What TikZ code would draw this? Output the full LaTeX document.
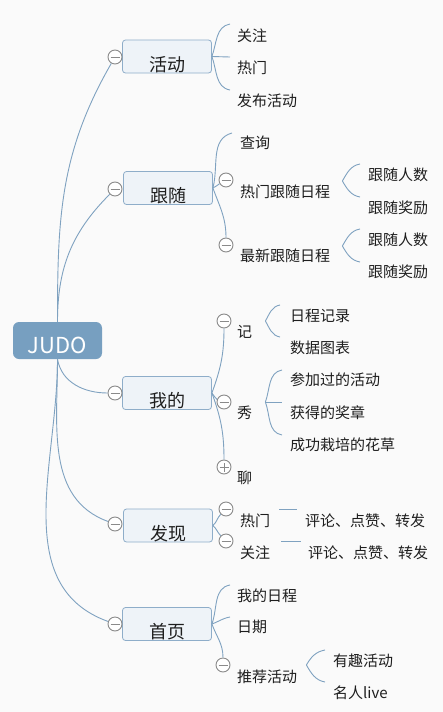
\documentclass[tikz,border=0pt]{standalone}
\usepackage{fontspec}
\setmainfont{Noto Sans CJK SC}
\definecolor{linkc}{HTML}{7FA2C0}
\definecolor{boxfill}{HTML}{EEF3F8}
\definecolor{boxline}{HTML}{8EADC9}
\definecolor{rootc}{HTML}{779FC0}
\definecolor{btnc}{HTML}{8A8A8A}
\definecolor{bgc}{HTML}{FAFAFA}
\definecolor{txtc}{HTML}{1E1E1E}
\tikzset{
  root/.style={fill=rootc, rounded corners=6pt, minimum width=89pt, inner ysep=6pt, text height=25pt, text depth=0pt, text=white, font=\fontsize{22}{24}\selectfont},
  topic/.style={draw=boxline, fill=boxfill, line width=0.8pt, rounded corners=3pt, minimum width=89pt, inner xsep=0pt, inner ysep=2pt, text height=29pt, text depth=0pt, text=txtc, font=\fontsize{18}{20}\selectfont},
  leaf/.style={anchor=west, inner sep=0pt, text=txtc, font=\fontsize{15}{18}\selectfont},
  btn/.style={circle, draw=btnc, fill=white, line width=0.9pt, minimum size=14pt, inner sep=0pt},
  minusbtn/.style={btn, path picture={\draw[btnc, line width=0.9pt] ([xshift=-4.5pt]path picture bounding box.center) -- ([xshift=4.5pt]path picture bounding box.center);}},
  plusbtn/.style={btn, path picture={\draw[btnc, line width=0.9pt] ([xshift=-4.5pt]path picture bounding box.center) -- ([xshift=4.5pt]path picture bounding box.center) ([yshift=-4.5pt]path picture bounding box.center) -- ([yshift=4.5pt]path picture bounding box.center);}},
  link/.style={draw=linkc, line width=0.9pt}
}
\begin{document}
\begin{tikzpicture}[x=1pt, y=1pt]
  \useasboundingbox (0,0) rectangle (443,-712);
  \fill[bgc] (0,0) rectangle (443,-712);
  \node[root] (judo) at (57.5,-340.5) {JUDO};
  \node[topic] (huodong) at (167,-56.5) {活动};
  \node[topic] (genshui) at (168,-188) {跟随};
  \node[topic] (wode) at (167,-393) {我的};
  \node[topic] (faxian) at (168,-525.5) {发现};
  \node[topic] (shouye) at (167,-624) {首页};
  \node[minusbtn] (bhd) at (115,-57) {};
  \node[minusbtn] (bgs) at (115,-189) {};
  \node[minusbtn] (bwd) at (115,-393) {};
  \node[minusbtn] (bfx) at (115,-524) {};
  \node[minusbtn] (bsy) at (115,-624) {};
  \node[leaf] (hd1) at (237,-36) {关注};
  \node[leaf] (hd2) at (237,-68) {热门};
  \node[leaf] (hd3) at (237,-101) {发布活动};
  \node[leaf] (gs1) at (240,-143) {查询};
  \node[leaf] (gs2) at (240,-192) {热门跟随日程};
  \node[leaf] (gs3) at (240,-256) {最新跟随日程};
  \node[leaf] (gs21) at (368,-175) {跟随人数};
  \node[leaf] (gs22) at (368,-208) {跟随奖励};
  \node[leaf] (gs31) at (368,-240) {跟随人数};
  \node[leaf] (gs32) at (368,-272) {跟随奖励};
  \node[minusbtn] (bgs2) at (226,-180) {};
  \node[minusbtn] (bgs3) at (226,-245) {};
  \node[leaf] (wd1) at (237,-332) {记};
  \node[leaf] (wd2) at (237,-413) {秀};
  \node[leaf] (wd3) at (237,-478) {聊};
  \node[leaf] (wd11) at (290,-316) {日程记录};
  \node[leaf] (wd12) at (290,-348) {数据图表};
  \node[leaf] (wd21) at (290,-380) {参加过的活动};
  \node[leaf] (wd22) at (290,-413) {获得的奖章};
  \node[leaf] (wd23) at (290,-445) {成功栽培的花草};
  \node[minusbtn] (bwd1) at (224,-321) {};
  \node[minusbtn] (bwd2) at (224,-402) {};
  \node[plusbtn] (bwd3) at (224,-467) {};
  \node[leaf] (fx1) at (240,-521) {热门};
  \node[leaf] (fx2) at (240,-553) {关注};
  \node[leaf] (fx11) at (305,-521) {评论、点赞、转发};
  \node[leaf] (fx21) at (308,-553) {评论、点赞、转发};
  \node[minusbtn] (bfx1) at (226,-509) {};
  \node[minusbtn] (bfx2) at (226,-541) {};
  \node[leaf] (sy1) at (237,-596) {我的日程};
  \node[leaf] (sy2) at (237,-627) {日期};
  \node[leaf] (sy3) at (237,-677) {推荐活动};
  \node[leaf] (sy31) at (333,-661) {有趣活动};
  \node[leaf] (sy32) at (333,-693) {名人live};
  \node[minusbtn] (bsy3) at (223,-665) {};

  \draw[link] (judo.north) to[out=90,in=240] (bhd);
  \draw[link] (judo.north) to[out=90,in=225] (bgs);
  \draw[link] (judo.south) to[out=-80,in=180] (bwd);
  \draw[link] (judo.south) to[out=-90,in=160] (bfx);
  \draw[link] (judo.south) to[out=-90,in=160] (bsy);

  \draw[link] (huodong.east) to[out=70,in=190] ([shift={(-7,12)}]hd1.west);
  \draw[link] (huodong.east) -- ([shift={(-7,11)}]hd2.west);
  \draw[link] (huodong.east) to[out=-70,in=170] ([shift={(-7,11)}]hd3.west);

  \draw[link] (genshui.east) to[out=75,in=195] ([shift={(-8,10)}]gs1.west);
  \draw[link] (genshui.east) to[out=20,in=210] (bgs2);
  \draw[link] (genshui.east) to[out=-70,in=90] (bgs3);
  \draw[link] ([shift={(12,11)}]gs2.east) to[out=60,in=190] ([shift={(-8,11)}]gs21.west);
  \draw[link] ([shift={(12,11)}]gs2.east) to[out=-60,in=170] ([shift={(-8,11)}]gs22.west);
  \draw[link] ([shift={(12,10)}]gs3.east) to[out=60,in=190] ([shift={(-8,11)}]gs31.west);
  \draw[link] ([shift={(12,10)}]gs3.east) to[out=-60,in=170] ([shift={(-8,10)}]gs32.west);

  \draw[link] (wode.east) to[out=70,in=-90] (bwd1);
  \draw[link] (wode.east) to[out=-30,in=160] (bwd2);
  \draw[link] (wode.east) to[out=-70,in=90] (bwd3);
  \draw[link] ([shift={(13,11)}]wd1.east) to[out=60,in=190] ([shift={(-10,11)}]wd11.west);
  \draw[link] ([shift={(13,11)}]wd1.east) to[out=-60,in=170] ([shift={(-10,11)}]wd12.west);
  \draw[link] ([shift={(13,11)}]wd2.east) to[out=70,in=190] ([shift={(-8,10)}]wd21.west);
  \draw[link] ([shift={(13,11)}]wd2.east) -- ([shift={(-8,11)}]wd22.west);
  \draw[link] ([shift={(13,11)}]wd2.east) to[out=-70,in=170] ([shift={(-8,10)}]wd23.west);

  \draw[link] (faxian.east) to[out=40,in=225] (bfx1);
  \draw[link] (faxian.east) to[out=-40,in=135] (bfx2);
  \draw[link] ([shift={(9,12)}]fx1.east) -- ([shift={(-8,12)}]fx11.west);
  \draw[link] ([shift={(11,12)}]fx2.east) -- ([shift={(-7,12)}]fx21.west);

  \draw[link] (shouye.east) to[out=70,in=190] ([shift={(-7,11)}]sy1.west);
  \draw[link] (shouye.east) to[out=20,in=190] ([shift={(-7,10)}]sy2.west);
  \draw[link] (shouye.east) to[out=-70,in=90] (bsy3);
  \draw[link] ([shift={(9,12)}]sy3.east) to[out=60,in=190] ([shift={(-8,11)}]sy31.west);
  \draw[link] ([shift={(9,12)}]sy3.east) to[out=-60,in=170] ([shift={(-8,11)}]sy32.west);
\end{tikzpicture}
\end{document}
